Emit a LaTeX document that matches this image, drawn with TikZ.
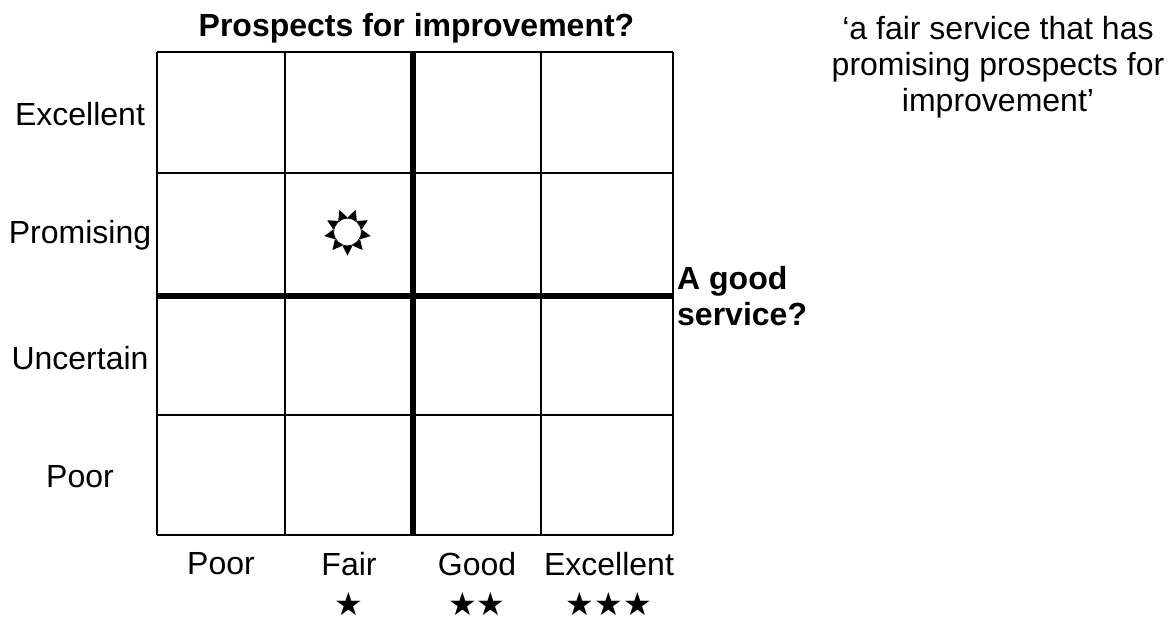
\documentclass[tikz,border=0pt]{standalone}
\usepackage{fontspec}
\setmainfont{Liberation Sans}
\newfontfamily\starfont{DejaVu Sans}
\usetikzlibrary{calc}

\tikzset{
	lbl/.style = {inner sep=0pt, align=center, font=\fontsize{32}{36}\selectfont},
	boldlbl/.style = {lbl, font=\fontsize{32}{36}\selectfont\bfseries},
	starlbl/.style = {inner sep=0pt, anchor=base, font=\fontsize{32}{32}\selectfont\starfont},
	thinline/.style = {line width=2.5pt},
	thickline/.style = {line width=6pt}
}

\begin{document}
\begin{tikzpicture}[x=1pt,y=-1pt]
	\useasboundingbox (0,0) rectangle (1173,619);
	
	% grid
	\foreach \x in {157,285,541,673}{
		\draw[thinline] (\x,52) -- (\x,535);
	}
	\foreach \y in {52,173,415,535}{
		\draw[thinline] (157,\y) -- (673,\y);
	}
	\draw[thickline] (413,52) -- (413,535);
	\draw[thickline] (157,296) -- (673,296);
	
	% sun
	\coordinate (sun) at (347.5,232);
	\foreach \i in {0,1, ...,8}{
		\fill[black] ($(sun)+({90+\i*40}:23.5)$) -- ($(sun)+({90+\i*40+20}:14.5)$) -- ($(sun)+({90+\i*40-20}:14.5)$) -- cycle;
	}
	\draw[black,fill=white,line width=0.8pt] (sun) circle[radius=13.8];
	
	% labels
	\node[boldlbl] (title) at (416.5,28) {Prospects for improvement?};
	\node[lbl] (quote) at (998,67) {‘a fair service that has\\promising prospects for\\improvement’};
	\node[boldlbl,align=left,anchor=west] (good) at (677,296) {A good\\service?};
	
	\node[lbl] (yexc) at (80,114) {Excellent};
	\node[lbl] (ypro) at (80,235) {Promising};
	\node[lbl] (yunc) at (80,358) {Uncertain};
	\node[lbl] (ypoo) at (80,477) {Poor};
	
	\node[lbl] (xpoo) at (221,564) {Poor};
	\node[lbl] (xfai) at (349,564) {Fair};
	\node[lbl] (xgoo) at (477,564) {Good};
	\node[lbl] (xexc) at (609,564) {Excellent};
	
	\node[starlbl] (sfai) at (349,615) {★};
	\node[starlbl] (sgoo) at (477,615) {★★};
	\node[starlbl] (sexc) at (609,615) {★★★};
\end{tikzpicture}
\end{document}
